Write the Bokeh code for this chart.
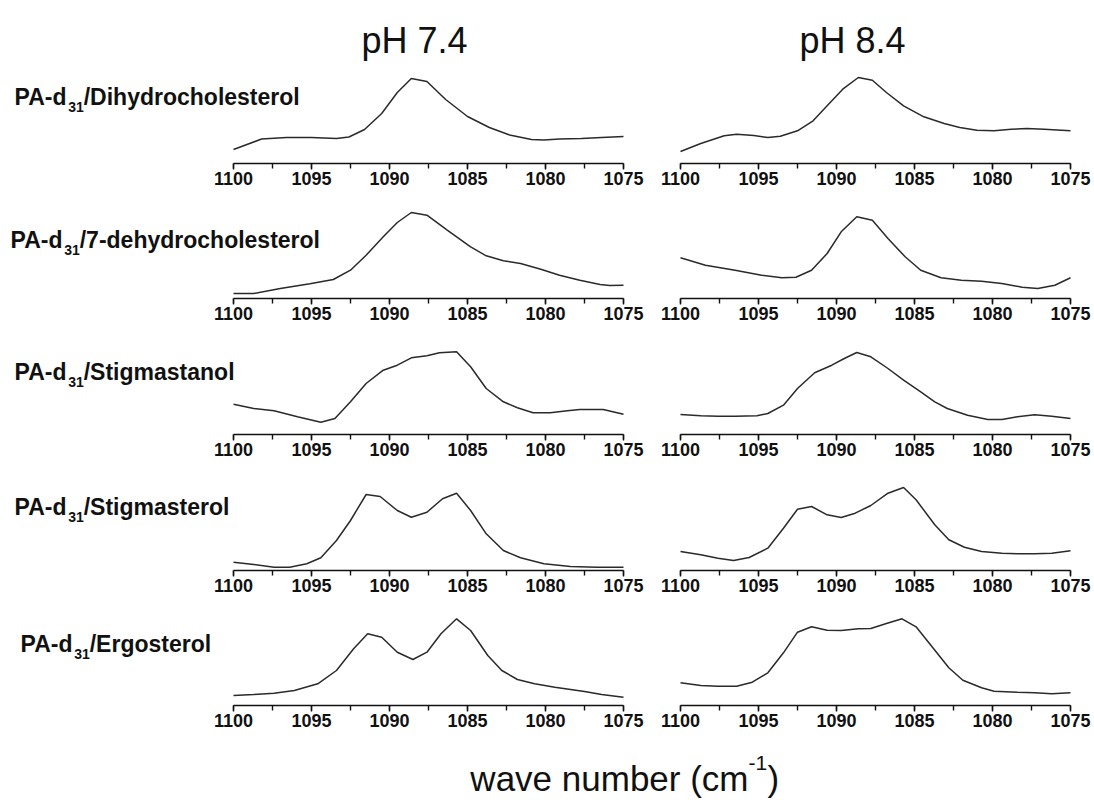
from bokeh.plotting import figure
from bokeh.models import Range1d, SingleIntervalTicker, Label
from bokeh.layouts import column, row
from bokeh.embed import file_html
from bokeh.resources import INLINE

FONT = "Liberation Sans"

# ---------------- data (absorbance, arbitrary units) ----------------
sterols = ["Dihydrocholesterol", "7-dehydrocholesterol", "Stigmastanol", "Stigmasterol", "Ergosterol"]
ph_titles = ["pH 7.4", "pH 8.4"]
tick_values = [1100, 1095, 1090, 1085, 1080, 1075]
x_title = "wave number (cm"
x_title_sup = "-1"

# PA-d31/Dihydrocholesterol
wn_dihydro_74 = [1100, 1098.2, 1096.6, 1095, 1093.4, 1092.6, 1091.6, 1090.5, 1089.5, 1088.6, 1087.6, 1086.4, 1085, 1083.6, 1082.3, 1080.9, 1080.1, 1079.1, 1077.7, 1076.4, 1075]
ab_dihydro_74 = [0.14, 0.245, 0.26, 0.26, 0.25, 0.265, 0.34, 0.50, 0.71, 0.85, 0.82, 0.64, 0.47, 0.36, 0.285, 0.24, 0.235, 0.245, 0.25, 0.26, 0.27]
wn_dihydro_84 = [1100, 1098.7, 1097.2, 1096.4, 1095.3, 1094.4, 1093.6, 1092.5, 1091.5, 1090.6, 1089.6, 1088.6, 1087.7, 1086.8, 1085.7, 1084.4, 1083.1, 1082.1, 1081, 1079.9, 1078.8, 1077.8, 1076.7, 1075]
ab_dihydro_84 = [0.12, 0.20, 0.277, 0.293, 0.28, 0.26, 0.273, 0.327, 0.427, 0.577, 0.743, 0.86, 0.833, 0.71, 0.577, 0.467, 0.40, 0.36, 0.333, 0.327, 0.343, 0.35, 0.343, 0.327]

# PA-d31/7-dehydrocholesterol
wn_dehydro_74 = [1100, 1098.7, 1097, 1095.1, 1093.6, 1092.5, 1091.5, 1090.4, 1089.5, 1088.6, 1087.6, 1086.3, 1084.8, 1083.8, 1082.7, 1081.6, 1080.3, 1079.1, 1077.8, 1076.5, 1075.9, 1075]
ab_dehydro_74 = [0.05, 0.05, 0.10, 0.147, 0.19, 0.283, 0.433, 0.617, 0.76, 0.86, 0.833, 0.683, 0.517, 0.427, 0.377, 0.35, 0.293, 0.233, 0.183, 0.14, 0.13, 0.133]
wn_dehydro_84 = [1100, 1098.4, 1096.5, 1094.8, 1093.5, 1092.6, 1091.6, 1090.6, 1089.7, 1088.7, 1087.7, 1086.7, 1085.6, 1084.6, 1083.3, 1082, 1080.7, 1079.4, 1078.1, 1077.1, 1076, 1075]
ab_dehydro_84 = [0.407, 0.333, 0.283, 0.233, 0.207, 0.213, 0.283, 0.45, 0.667, 0.817, 0.783, 0.60, 0.417, 0.283, 0.207, 0.183, 0.173, 0.15, 0.113, 0.10, 0.133, 0.207]

# PA-d31/Stigmastanol
wn_stanol_74 = [1100, 1098.7, 1097.4, 1095.9, 1094.4, 1093.5, 1092.5, 1091.5, 1090.4, 1089.5, 1088.6, 1087.6, 1086.8, 1085.7, 1084.8, 1083.8, 1082.7, 1081.8, 1080.8, 1079.7, 1078.6, 1077.8, 1076.3, 1075]
ab_stanol_74 = [0.303, 0.26, 0.237, 0.177, 0.123, 0.16, 0.327, 0.51, 0.643, 0.693, 0.767, 0.787, 0.817, 0.827, 0.677, 0.46, 0.327, 0.267, 0.217, 0.217, 0.237, 0.25, 0.25, 0.203]
wn_stanol_84 = [1100, 1098.7, 1097.6, 1096.5, 1095.1, 1094.4, 1093.4, 1092.5, 1091.4, 1090.3, 1089.5, 1088.7, 1087.8, 1086.7, 1085.7, 1084.6, 1083.7, 1082.9, 1081.6, 1080.3, 1079.4, 1078.4, 1077.3, 1076.2, 1075]
ab_stanol_84 = [0.20, 0.187, 0.183, 0.183, 0.187, 0.21, 0.293, 0.46, 0.617, 0.693, 0.76, 0.82, 0.777, 0.66, 0.543, 0.427, 0.327, 0.26, 0.193, 0.15, 0.15, 0.177, 0.197, 0.183, 0.16]

# PA-d31/Stigmasterol
wn_sterol_74 = [1100, 1098.7, 1097.4, 1096.4, 1095.3, 1094.4, 1093.4, 1092.5, 1091.5, 1090.6, 1089.5, 1088.6, 1087.6, 1086.6, 1085.7, 1084.8, 1083.8, 1082.7, 1081.6, 1080.1, 1078.4, 1076.7, 1075]
ab_sterol_74 = [0.083, 0.06, 0.033, 0.033, 0.067, 0.127, 0.30, 0.50, 0.76, 0.74, 0.60, 0.533, 0.583, 0.717, 0.773, 0.60, 0.367, 0.20, 0.127, 0.067, 0.04, 0.033, 0.033]
wn_sterol_84 = [1100, 1098.7, 1097.6, 1096.6, 1095.6, 1094.4, 1093.4, 1092.5, 1091.6, 1090.6, 1089.7, 1088.8, 1087.8, 1086.7, 1085.7, 1084.9, 1083.7, 1082.8, 1081.8, 1080.7, 1079.4, 1078.4, 1077.3, 1076.2, 1075]
ab_sterol_84 = [0.19, 0.157, 0.123, 0.10, 0.13, 0.223, 0.423, 0.613, 0.64, 0.557, 0.53, 0.573, 0.65, 0.773, 0.83, 0.707, 0.457, 0.307, 0.233, 0.19, 0.173, 0.167, 0.167, 0.173, 0.197]

# PA-d31/Ergosterol
wn_ergo_74 = [1100, 1098.7, 1097.4, 1096.1, 1094.6, 1093.4, 1092.3, 1091.4, 1090.5, 1089.5, 1088.5, 1087.6, 1086.7, 1085.7, 1084.8, 1083.7, 1082.8, 1081.8, 1080.7, 1079.4, 1077.5, 1076.4, 1075]
ab_ergo_74 = [0.10, 0.11, 0.123, 0.15, 0.217, 0.35, 0.567, 0.717, 0.683, 0.533, 0.46, 0.533, 0.717, 0.867, 0.75, 0.50, 0.35, 0.26, 0.217, 0.183, 0.14, 0.11, 0.083]
wn_ergo_84 = [1100, 1098.7, 1097.6, 1096.4, 1095.4, 1094.4, 1093.4, 1092.5, 1091.6, 1090.6, 1089.7, 1088.6, 1087.8, 1086.8, 1085.8, 1084.9, 1083.9, 1082.8, 1081.9, 1080.7, 1079.9, 1078.4, 1077.3, 1076.2, 1075]
ab_ergo_84 = [0.227, 0.20, 0.193, 0.193, 0.233, 0.327, 0.527, 0.733, 0.787, 0.753, 0.75, 0.767, 0.77, 0.82, 0.867, 0.787, 0.593, 0.377, 0.253, 0.177, 0.143, 0.133, 0.127, 0.117, 0.127]

series = [
    [(wn_dihydro_74, ab_dihydro_74), (wn_dihydro_84, ab_dihydro_84)],
    [(wn_dehydro_74, ab_dehydro_74), (wn_dehydro_84, ab_dehydro_84)],
    [(wn_stanol_74, ab_stanol_74), (wn_stanol_84, ab_stanol_84)],
    [(wn_sterol_74, ab_sterol_74), (wn_sterol_84, ab_sterol_84)],
    [(wn_ergo_74, ab_ergo_74), (wn_ergo_84, ab_ergo_84)],
]

# ---------------- layout parameters ----------------
PX_PER_WN = 15.6            # 390 px for 25 cm-1
PX_PER_UNIT = 100.0         # 100 px per absorbance unit
LEFT_W, RIGHT_W = 651, 443
LEFT_AXIS0, RIGHT_AXIS0 = 233, 29     # canvas x of 1100 inside each figure
frame_heights = [163, 100, 100, 100, 100]
bottom_borders = [35, 36, 36, 35, 36]
label_x = [14, 10, 14, 14, 20]          # canvas x of row label
label_base = [58, 50, 54, 55, 53]       # baseline height above axis line
LAB_FS = 23
SUB_FS = 14
BASE_SHIFT = 0.35                       # svg text baseline correction (em)


def text_width(s, size):
    w = {'P': .667, 'A': .722, '-': .333, 'd': .611, '3': .556, '1': .556}
    return sum(w.get(c, .556) for c in s) * size


def make_panel(xs, ys, width, axis0, fh, bottom):
    x_start = tick_values[0] + axis0 / PX_PER_WN
    x_end = tick_values[0] - (width - axis0) / PX_PER_WN
    p = figure(width=width, height=fh + bottom,
               x_range=Range1d(x_start, x_end), y_range=Range1d(0, fh / PX_PER_UNIT),
               output_backend="svg", toolbar_location=None,
               y_axis_location=None, min_border_left=0, min_border_right=0,
               min_border_top=0, min_border_bottom=bottom)
    p.outline_line_color = None
    p.grid.visible = False
    p.line(xs, ys, line_color="#2a2a2a", line_width=1.5)
    ax = p.xaxis[0]
    ax.ticker = SingleIntervalTicker(interval=5, num_minor_ticks=2)
    ax.bounds = (tick_values[-1], tick_values[0])
    ax.axis_line_width = 1.6
    ax.axis_line_color = "#111111"
    ax.major_tick_line_width = 1.4
    ax.minor_tick_line_width = 1.4
    ax.major_tick_line_color = "#111111"
    ax.minor_tick_line_color = "#111111"
    ax.major_tick_in = 0
    ax.major_tick_out = 6
    ax.minor_tick_in = 0
    ax.minor_tick_out = 5
    ax.major_label_standoff = 2
    ax.major_label_text_font = FONT
    ax.major_label_text_font_style = "bold"
    ax.major_label_text_font_size = "18px"
    ax.major_label_text_color = "#111111"
    return p


def add_text(p, x, y, txt, fs, bold=False, align="left", units="screen"):
    p.add_layout(Label(x=x, y=y + BASE_SHIFT * fs, x_units=units, y_units=units, text=txt,
                       text_font=FONT, text_font_style="bold" if bold else "normal",
                       text_font_size=f"{fs}px", text_color="#111111",
                       text_align=align, text_baseline="alphabetic"))


rows = []
for i in range(5):
    (xl, yl), (xr, yr) = series[i]
    pl = make_panel(xl, yl, LEFT_W, LEFT_AXIS0, frame_heights[i], bottom_borders[i])
    pr = make_panel(xr, yr, RIGHT_W, RIGHT_AXIS0, frame_heights[i], bottom_borders[i])

    # row label  PA-d31/...
    x0 = label_x[i]
    w1 = text_width("PA-d", LAB_FS)
    w2 = text_width("31", SUB_FS)
    yb = label_base[i]
    add_text(pl, x0, yb, "PA-d", LAB_FS, bold=True)
    add_text(pl, x0 + w1, yb - 6, "31", SUB_FS, bold=True)
    add_text(pl, x0 + w1 + w2, yb, "/" + sterols[i], LAB_FS, bold=True)
    if i == 0:
        add_text(pl, 414, 110, ph_titles[0], 36, align="center")
        add_text(pr, 852 - LEFT_W, 110, ph_titles[1], 36, align="center")
    rows.append(row(pl, pr))

# bottom x-axis title
pb = figure(width=1094, height=61, x_range=Range1d(0, 1094), y_range=Range1d(0, 61),
            output_backend="svg", toolbar_location=None,
            x_axis_location=None, y_axis_location=None,
            min_border_left=0, min_border_right=0,
            min_border_top=0, min_border_bottom=0)
pb.outline_line_color = None
pb.grid.visible = False
XB = 748
add_text(pb, XB, 12, x_title, 35, align="right", units="data")
add_text(pb, XB, 32, x_title_sup, 21, units="data")
add_text(pb, XB + 19, 12, ")", 35, units="data")

layout = column(*rows, pb)
open("out.html", "w").write(file_html(layout, INLINE))
